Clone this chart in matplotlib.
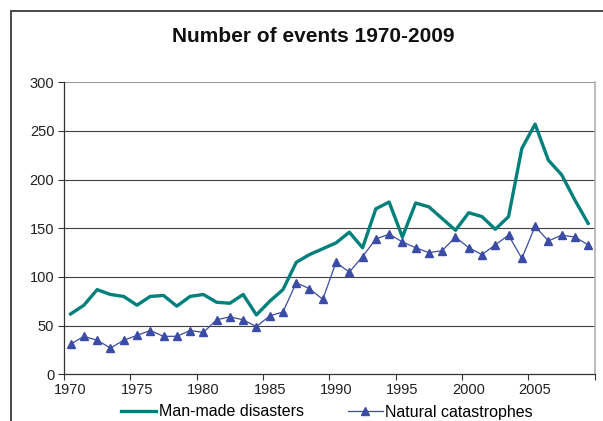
"""Number of events 1970-2009: man-made disasters vs natural catastrophes."""
import matplotlib
matplotlib.use("Agg")
import matplotlib.pyplot as plt
from matplotlib.patches import Rectangle

years = list(range(1970, 2010))
man_made = [62, 71, 87, 82, 80, 71, 80, 81, 70, 80,
            82, 74, 73, 82, 61, 75, 87, 115, 123, 129,
            135, 146, 130, 170, 177, 141, 176, 172, 160, 148,
            166, 162, 149, 162, 232, 257, 220, 205, 179, 155]
natural = [31, 39, 35, 27, 35, 40, 45, 39, 39, 45,
           43, 56, 59, 56, 49, 60, 64, 94, 88, 77,
           115, 105, 121, 139, 144, 136, 130, 125, 127, 141,
           130, 123, 133, 143, 119, 152, 137, 143, 141, 133]
y_ticks = [0, 50, 100, 150, 200, 250, 300]
label_years = [1970, 1975, 1980, 1985, 1990, 1995, 2000, 2005]

plt.rcParams["font.family"] = ["Liberation Sans", "DejaVu Sans"]

W, H = 603, 421
fig = plt.figure(figsize=(W / 100, H / 100), dpi=100)

# outer chart frame (left and top edges visible)
fig.patches.append(Rectangle((11 / W, -0.2), 1.2, 1.2 - 11 / H,
                             transform=fig.transFigure, fill=False,
                             edgecolor="#3a3a3a", linewidth=1.3))

ax = fig.add_axes([64 / W, 1 - 374.3 / H, (594.8 - 64) / W, (374.3 - 82.3) / H])

for v in y_ticks[1:]:
    ax.axhline(v, color="#9a9a9a" if v == 300 else "#404040", linewidth=0.8, zorder=1)

ax.plot(years, man_made, color="#00807a", linewidth=2.4, label="Man-made disasters", zorder=3)
ax.plot(years, natural, color="#3a4ca6", linewidth=0.9, marker="^", markersize=5.5,
        label="Natural catastrophes", zorder=3)

ax.set_xlim(years[0] - 0.5, years[-1] + 0.5)
ax.set_ylim(0, 300)
ax.set_yticks(y_ticks)
ax.set_xticks([y - 0.5 for y in range(1970, 2011, 5)])
ax.set_xticklabels([])
ax.set_xticks(label_years, minor=True)
ax.set_xticklabels([str(y) for y in label_years], minor=True)
ax.tick_params(axis="x", which="minor", length=0, pad=6, labelsize=10.5, labelcolor="#222222")
ax.tick_params(axis="x", which="major", length=4, direction="out", color="#333333")
ax.tick_params(axis="y", length=4, direction="out", labelsize=10.5, labelcolor="#222222",
               color="#333333", pad=3)

for side in ["left", "bottom"]:
    ax.spines[side].set_color("#333333")
    ax.spines[side].set_linewidth(0.9)
ax.spines["top"].set_visible(False)
ax.spines["right"].set_color("#b0b0b0")
ax.spines["right"].set_linewidth(1.2)

fig.text(313 / W, 1 - 37 / H, "Number of events 1970-2009", ha="center", va="center",
         fontsize=15, fontweight="bold", color="#111111")

fig.legend(loc="center", bbox_to_anchor=(327 / W, 1 - 412 / H), ncol=2, frameon=False,
           fontsize=11.5, handlelength=2.2, handletextpad=0.15, columnspacing=2.75,
           borderaxespad=0, borderpad=0)

fig.savefig("out.png", dpi=100)
